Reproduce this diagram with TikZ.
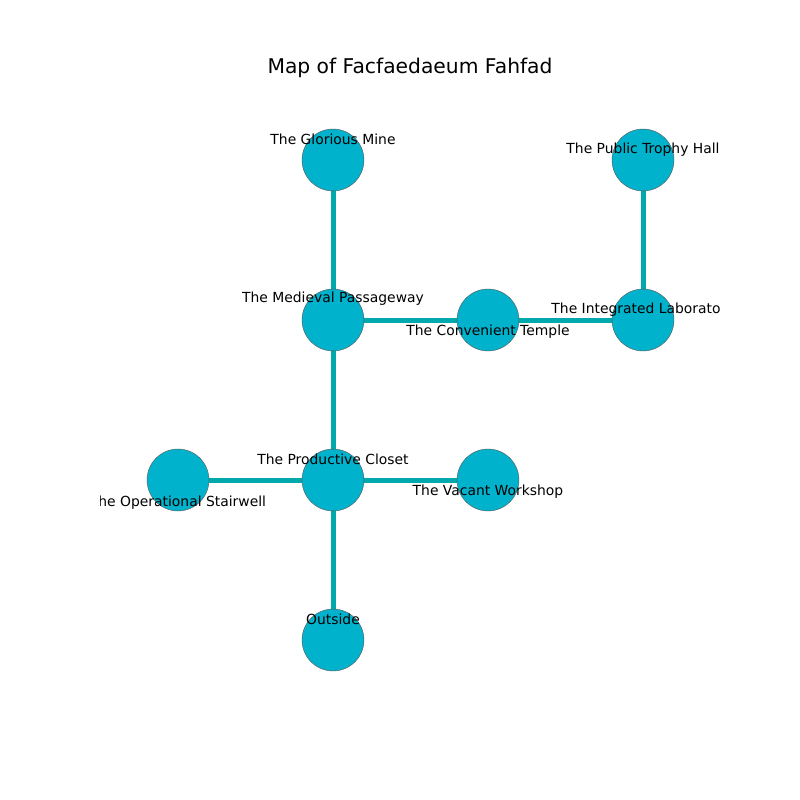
\documentclass[tikz,border=0pt]{standalone}
\usepackage{fontspec}
\setmainfont{DejaVu Sans}
\usepackage{tikz}
\usetikzlibrary{positioning}
\definecolor{mteal}{HTML}{00A9AC}
\definecolor{mcyan}{HTML}{00B2CB}
\tikzset{room/.style = {circle, fill = mcyan, draw = gray!70!black, line width = 0.3pt, inner sep = 0, minimum size = 44.6pt}}
\tikzset{corridor/.style = {mteal, line width = 3.6pt}}
\tikzset{lbl/.style = {inner sep = 0, yshift = -1.4pt, font = \fontsize{10}{12}\selectfont}}

\begin{document}
\begin{tikzpicture}[x = 0.72pt, y = -0.72pt]
    \useasboundingbox (0, 0) rectangle (800, 800);

    \node [font = \fontsize{14.6}{17}\selectfont] (title) at (410, 68) {Map of Facfaedaeum Fahfad};

    \coordinate (mine) at (333, 160);
    \coordinate (trophy) at (643, 160);
    \coordinate (passage) at (333, 320);
    \coordinate (temple) at (488, 320);
    \coordinate (lab) at (643, 320);
    \coordinate (stair) at (178, 480);
    \coordinate (closet) at (333, 480);
    \coordinate (workshop) at (488, 480);
    \coordinate (outside) at (333, 640);

    \draw [corridor] (mine) -- (passage);
    \draw [corridor] (passage) -- (temple);
    \draw [corridor] (temple) -- (lab);
    \draw [corridor] (trophy) -- (lab);
    \draw [corridor] (passage) -- (closet);
    \draw [corridor] (stair) -- (closet);
    \draw [corridor] (closet) -- (workshop);
    \draw [corridor] (closet) -- (outside);

    \node [room] (mineR) at (mine) {};
    \node [room] (trophyR) at (trophy) {};
    \node [room] (passageR) at (passage) {};
    \node [room] (templeR) at (temple) {};
    \node [room] (labR) at (lab) {};
    \node [room] (stairR) at (stair) {};
    \node [room] (closetR) at (closet) {};
    \node [room] (workshopR) at (workshop) {};
    \node [room] (outsideR) at (outside) {};

    \begin{scope}
      \clip (100, 96) rectangle (720, 712);
      \node [lbl] (mineL) at (333, 137) {The Glorious Mine};
      \node [lbl] (trophyL) at (643, 148) {The Public Trophy Hall};
      \node [lbl] (passageL) at (333, 297) {The Medieval Passageway};
      \node [lbl] (templeL) at (488, 330) {The Convenient Temple};
      \node [lbl] (labL) at (643, 308) {The Integrated Laboratory};
      \node [lbl] (stairL) at (178, 501) {The Operational Stairwell};
      \node [lbl] (closetL) at (333, 457) {The Productive Closet};
      \node [lbl] (workshopL) at (488, 490) {The Vacant Workshop};
      \node [lbl] (outsideL) at (333, 617) {Outside};
    \end{scope}
  \end{tikzpicture}
\end{document}
